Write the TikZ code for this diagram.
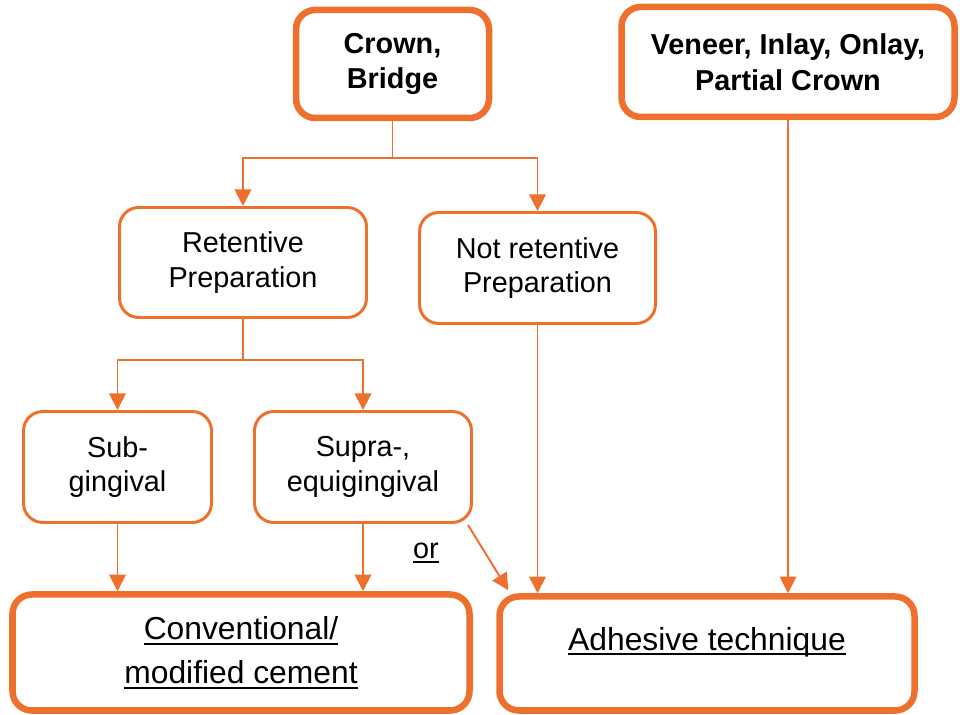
\documentclass[tikz,border=0pt]{standalone}
\usepackage{fontspec}
\setmainfont{Liberation Sans}
\usetikzlibrary{arrows.meta,calc}
\definecolor{orng}{RGB}{237,113,45}
\newcommand{\undl}[1]{\leavevmode\setbox0\hbox{#1}\rlap{\rule[-3pt]{\wd0}{1.2pt}}\box0}

\begin{document}
\begin{tikzpicture}[x=0.02cm,y=-0.02cm,
  thinbox/.style={draw=orng,line width=1.7pt,rounded corners=11pt,align=center,inner sep=0pt,
    font=\fontsize{16.4}{19.8}\selectfont},
  thickbox/.style={draw=orng,line width=3.7pt,rounded corners=11pt,align=center,inner sep=0pt},
  topfont/.style={font=\bfseries\fontsize{16.4}{20.4}\selectfont},
  bigfont/.style={font=\fontsize{18.1}{25}\selectfont},
  conn/.style={draw=orng,line width=1.1pt},
  arr/.style={conn,-{Triangle[width=9.5pt,length=9.5pt]}}]

\useasboundingbox (0,0) rectangle (960,715);

% top row
\node[thickbox,topfont,minimum width=193*0.02cm,minimum height=108*0.02cm] (crown) at (392.5,64) {Crown,\\Bridge};
\node[thickbox,topfont,minimum width=333*0.02cm,minimum height=110*0.02cm] (veneer) at (788,62) {Veneer, Inlay, Onlay,\\Partial Crown};

% preparation
\node[thinbox,minimum width=247*0.02cm,minimum height=110*0.02cm] (ret) at (243,262.5) {Retentive\\Preparation};
\node[thinbox,minimum width=236*0.02cm,minimum height=111*0.02cm] (notret) at (537.5,268) {Not retentive\\Preparation};

% margin
\node[thinbox,minimum width=188*0.02cm,minimum height=111*0.02cm] (sub) at (117.5,467) {Sub-\\gingival};
\node[thinbox,minimum width=217*0.02cm,minimum height=111*0.02cm] (supra) at (363,467) {Supra-,\\equigingival};

% cementation
\node[thickbox,bigfont,minimum width=457*0.02cm,minimum height=116*0.02cm] (conv) at (241,652.5) {\undl{Conventional/}\\\undl{modified cement}};
\node[thickbox,minimum width=415*0.02cm,minimum height=114*0.02cm] (adh) at (707,653.5) {};
\node[bigfont] (adhtext) at (707,642) {\undl{Adhesive technique}};

\node[font=\fontsize{16.4}{19.8}\selectfont] (orlabel) at (426,553) {\undl{or}};

\draw[conn] (crown.south) -- ++(0,37) coordinate (fork1);
\draw[arr] (fork1) -| (ret.north);
\draw[arr] (fork1) -| (notret.north);

\draw[conn] (ret.south) -- ++(0,41) coordinate (fork2);
\draw[arr] (fork2) -| (sub.north);
\draw[arr] (fork2) -| (supra.north);

\draw[arr] (sub.south) -- (sub.south |- conv.north);
\draw[arr] (supra.south) -- (supra.south |- conv.north);
\draw[arr] ($(supra.south east)+(-5,1)$) -- ($(adh.north west)+(12,-3)$);
\draw[arr] (notret.south) -- (notret.south |- adh.north);
\draw[arr] (veneer.south) -- (veneer.south |- adh.north);
\end{tikzpicture}
\end{document}
